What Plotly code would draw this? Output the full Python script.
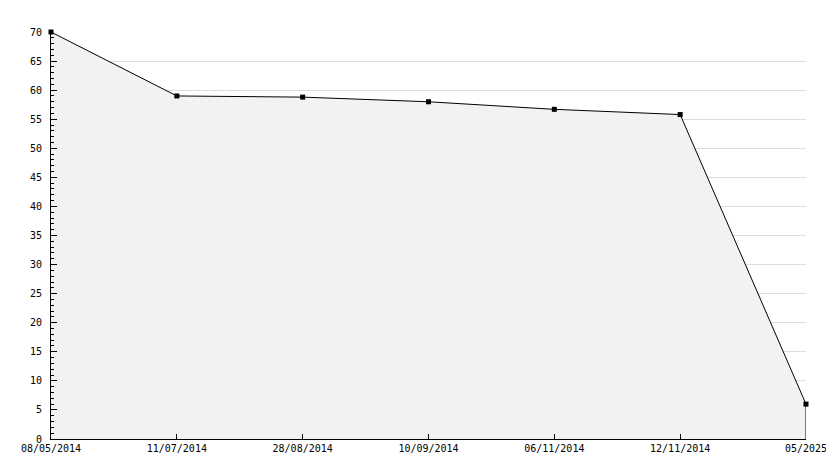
import plotly.graph_objects as go

dates = ["08/05/2014", "11/07/2014", "28/08/2014", "10/09/2014", "06/11/2014", "12/11/2014", "05/2025"]
values = [70, 59, 58.8, 58, 56.7, 55.8, 6]

fig = go.Figure()
fig.add_trace(go.Scatter(
    x=dates, y=values, mode="lines+markers", fill="tozeroy",
    fillcolor="#f2f2f2",
    line=dict(color="black", width=1),
    marker=dict(symbol="square", size=5, color="black"),
    hoverinfo="x+y", showlegend=False, cliponaxis=False,
))
fig.add_trace(go.Scatter(
    x=[dates[-1], dates[-1]], y=[values[-1], 0], mode="lines",
    line=dict(color="black", width=1), showlegend=False, hoverinfo="skip",
    cliponaxis=False,
))

fig.update_layout(
    width=834, height=468,
    margin=dict(l=43, r=36, t=24, b=37),
    plot_bgcolor="white", paper_bgcolor="white",
    font=dict(family="DejaVu Sans Mono", size=10, color="black"),
    xaxis=dict(
        type="category", range=[0, 6], showgrid=False, automargin=False,
        showline=True, linecolor="black", linewidth=1,
        ticks="inside", ticklen=5, tickcolor="black",
        zeroline=False, fixedrange=True,
    ),
    yaxis=dict(
        range=[0, 70], dtick=5, showgrid=True, gridcolor="#dddddd", gridwidth=1,
        automargin=False, ticklabelstandoff=6,
        showline=True, linecolor="black", linewidth=1,
        ticks="inside", ticklen=6, tickcolor="black",
        minor=dict(dtick=1, ticks="inside", ticklen=3, tickcolor="black", showgrid=False),
        zeroline=False, fixedrange=True,
    ),
)

fig.write_html("out.html")
